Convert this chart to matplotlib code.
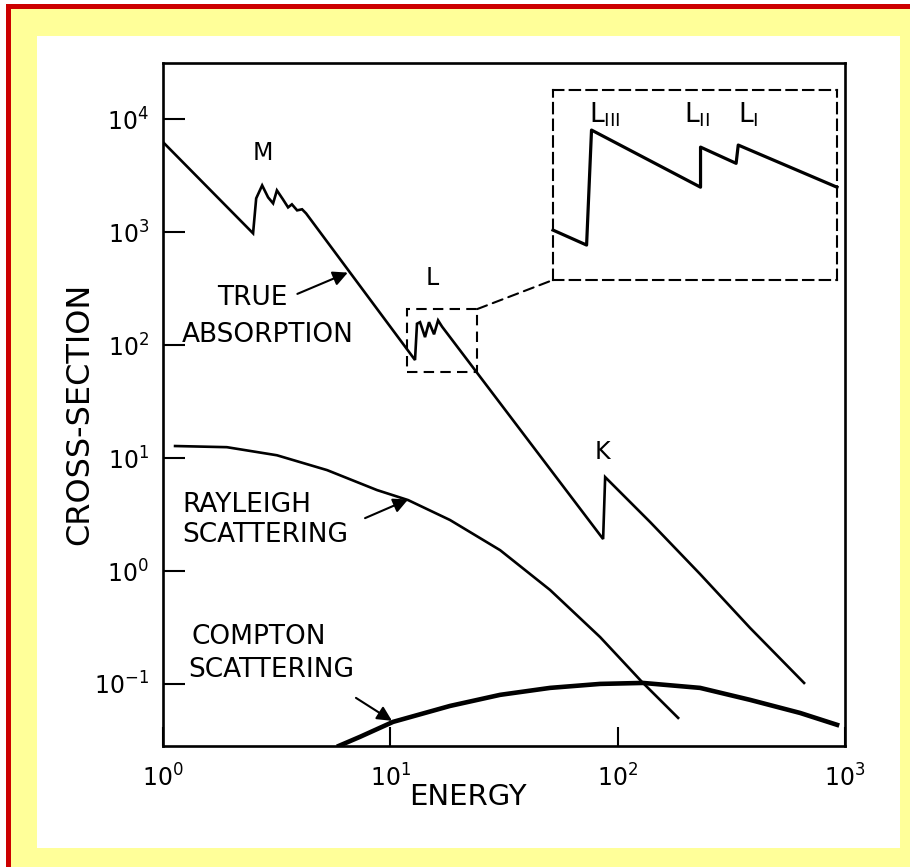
import matplotlib
matplotlib.use("Agg")
import matplotlib.pyplot as plt
from matplotlib.patches import Rectangle, ConnectionPatch
from matplotlib.ticker import FixedLocator, FixedFormatter, NullLocator

# ---------------- data ----------------
absorp_E = [1.0, 2.49, 2.57, 2.73, 2.90, 3.05, 3.17, 3.37, 3.55, 3.69, 3.89, 4.09, 4.26,
            12.84, 13.1, 13.51, 14.21, 14.80, 15.57, 16.22, 16.89,
            86.3, 88.1, 138.8, 230.4, 382.4, 660.7]
absorp_sigma = [6300, 980, 2000, 2606, 2040, 1806, 2353, 1959, 1664, 1770, 1566, 1600, 1472,
                74, 155, 160, 118, 160, 125, 166, 146,
                1.92, 6.79, 2.72, 0.94, 0.313, 0.102]

rayleigh_E = [1.13, 1.91, 3.17, 5.27, 8.74, 11.97, 18.3, 30.4, 50.4, 83.7, 128, 184.5]
rayleigh_sigma = [12.8, 12.5, 10.6, 7.83, 5.21, 4.25, 2.83, 1.53, 0.68, 0.26, 0.104, 0.050]

compton_E = [5.95, 7.36, 10.28, 18.3, 30.4, 50.4, 83.7, 129.3, 230.4, 382.4, 634.6, 922.6]
compton_sigma = [0.0283, 0.034, 0.0461, 0.0638, 0.080, 0.0922, 0.100, 0.102, 0.0922,
                 0.0722, 0.0553, 0.0434]

# magnified L-edge region (inset)
inset_E = [11.8, 12.84, 13.0, 17.1, 17.1, 18.7, 18.8, 24.1]
inset_sigma = [80.7, 72.9, 159.2, 108, 141.8, 127, 143.8, 108]
inset_xrange = [11.8, 24.1]
inset_yrange = [57.5, 209]

x_ticks = [1, 10, 100, 1000]
x_ticklabels = ['$10^0$', '$10^1$', '$10^2$', '$10^3$']
y_ticks = [0.1, 1, 10, 100, 1000, 10000]
y_ticklabels = ['$10^{-1}$', '$10^0$', '$10^1$', '$10^2$', '$10^3$', '$10^4$']

# ---------------- figure ----------------
W, H = 910, 867
fig = plt.figure(figsize=(W / 100, H / 100), dpi=100)
fig.patch.set_facecolor('white')

def fx(px):
    return px / W

def fy(py):
    return 1 - py / H

fig.add_artist(Rectangle((fx(6), 0), 1, fy(4), transform=fig.transFigure,
                         facecolor='#CC0000', edgecolor='none', zorder=-5))
fig.add_artist(Rectangle((fx(11), 0), 1, fy(9), transform=fig.transFigure,
                         facecolor='#FFFF99', edgecolor='none', zorder=-4))
fig.add_artist(Rectangle((fx(37), fy(848)), fx(900) - fx(37), fy(36) - fy(848),
                         transform=fig.transFigure, facecolor='white',
                         edgecolor='none', zorder=-3))

ax = fig.add_axes([fx(163), fy(746), fx(845) - fx(163), fy(63) - fy(746)])
ax.set_facecolor('white')
ax.set_xscale('log')
ax.set_yscale('log')
ax.set_xlim(1, 1000)
ax.set_ylim(10 ** -1.55, 10 ** 4.5)

lw = 1.9
ax.plot(absorp_E, absorp_sigma, color='black', lw=lw, solid_joinstyle='miter')
ax.plot(rayleigh_E, rayleigh_sigma, color='black', lw=lw)
ax.plot(compton_E, compton_sigma, color='black', lw=3.3)

for s in ax.spines.values():
    s.set_linewidth(1.9)

ax.xaxis.set_major_locator(FixedLocator(x_ticks))
ax.xaxis.set_major_formatter(FixedFormatter(x_ticklabels))
ax.yaxis.set_major_locator(FixedLocator(y_ticks))
ax.yaxis.set_major_formatter(FixedFormatter(y_ticklabels))
ax.xaxis.set_minor_locator(NullLocator())
ax.yaxis.set_minor_locator(NullLocator())
ax.tick_params(axis='x', direction='in', length=14, width=1.5, labelsize=17, pad=13)
ax.tick_params(axis='y', direction='in', length=16, width=1.5, labelsize=17, pad=10)

ax.set_xlabel('ENERGY', fontsize=21, va='center')
ax.xaxis.set_label_coords((468 - 163) / 682, (746 - 797) / 683)
ax.set_ylabel('CROSS-SECTION', fontsize=23, ha='center', va='center')
ax.yaxis.set_label_coords((80 - 163) / 682, (746 - 414) / 683)

# curve labels
fs = 19
ax.text(2.76, 5000, 'M', fontsize=17, ha='center', va='center')
ax.text(1.728, 260, 'TRUE', fontsize=fs, ha='left', va='center')
ax.text(1.212, 122, 'ABSORPTION', fontsize=fs, ha='left', va='center')
ax.text(15.26, 392, 'L', fontsize=17, ha='center', va='center')
ax.text(85.4, 11.3, 'K', fontsize=17, ha='center', va='center')
ax.text(1.212, 3.84, 'RAYLEIGH', fontsize=fs, ha='left', va='center')
ax.text(1.212, 2.08, 'SCATTERING', fontsize=fs, ha='left', va='center')
ax.text(1.341, 0.26, 'COMPTON', fontsize=fs, ha='left', va='center')
ax.text(1.288, 0.133, 'SCATTERING', fontsize=fs, ha='left', va='center')

arrow = dict(arrowstyle='-|>', color='black', lw=1.5, mutation_scale=22,
             shrinkA=0, shrinkB=0)
ax.annotate('', xy=(6.5, 440), xytext=(3.9, 285), arrowprops=arrow)
ax.annotate('', xy=(11.97, 4.3), xytext=(7.74, 2.94), arrowprops=arrow)
ax.annotate('', xy=(10.17, 0.0471), xytext=(7.06, 0.0752), arrowprops=arrow)

# small dashed box around the L edges
dash = (0, (5, 3))
ax.add_patch(Rectangle((inset_xrange[0], inset_yrange[0]),
                       inset_xrange[1] - inset_xrange[0],
                       inset_yrange[1] - inset_yrange[0],
                       fill=False, edgecolor='black', lw=1.5, linestyle=dash))

# inset (magnified L edges)
axin = fig.add_axes([fx(553), fy(280), fx(837) - fx(553), fy(90) - fy(280)])
axin.set_xscale('log')
axin.set_yscale('log')
axin.set_xlim(*inset_xrange)
axin.set_ylim(*inset_yrange)
axin.patch.set_alpha(0)
axin.set_xticks([])
axin.set_yticks([])
axin.xaxis.set_minor_locator(NullLocator())
axin.yaxis.set_minor_locator(NullLocator())
for s in axin.spines.values():
    s.set_linestyle(dash)
    s.set_linewidth(1.5)
axin.plot(inset_E, inset_sigma, color='black', lw=2.3, clip_on=False)
axin.text(0.183, 0.868, r'$\mathrm{L}_{\mathrm{III}}$', transform=axin.transAxes,
          fontsize=19, ha='center', va='center')
axin.text(0.507, 0.868, r'$\mathrm{L}_{\mathrm{II}}$', transform=axin.transAxes,
          fontsize=19, ha='center', va='center')
axin.text(0.687, 0.868, r'$\mathrm{L}_{\mathrm{I}}$', transform=axin.transAxes,
          fontsize=19, ha='center', va='center')

con = ConnectionPatch(xyA=(inset_xrange[1], inset_yrange[1]), coordsA=ax.transData,
                      xyB=(inset_xrange[0], inset_yrange[0]), coordsB=axin.transData,
                      color='black', lw=1.5, linestyle=dash)
fig.add_artist(con)

fig.savefig('out.png', dpi=100)
